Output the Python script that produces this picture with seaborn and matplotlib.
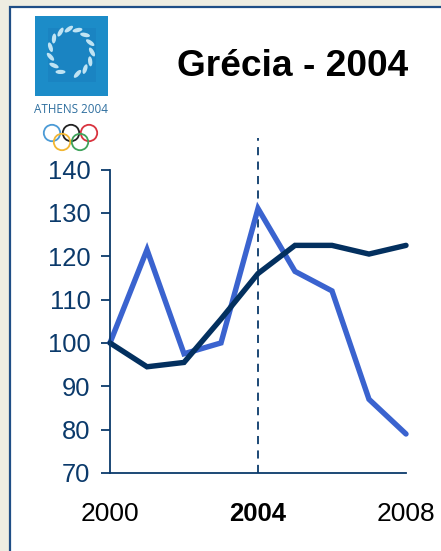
import numpy as np
import pandas as pd
import matplotlib
matplotlib.use("Agg")
import matplotlib.pyplot as plt
from matplotlib.patches import Rectangle, Circle, Ellipse
import seaborn as sns

years = [2000, 2001, 2002, 2003, 2004, 2005, 2006, 2007, 2008]
series_light = [100, 121.5, 97.5, 100, 131, 116.5, 112, 87, 79]
series_dark = [100, 94.5, 95.5, 105.5, 116, 122.5, 122.5, 120.5, 122.5]
y_ticks = [70, 80, 90, 100, 110, 120, 130, 140]
x_ticks = [2000, 2004, 2008]
marker_year = 2004
marker_top = 147.3
title = "Grécia - 2004"
logo_text = "ATHENS 2004"

NAVY = "#0B3A6B"
DARK = "#03305F"
LIGHT = "#3A63CF"
W, H = 441, 551

sns.set_theme(style="white")
plt.rcParams["font.family"] = ["Liberation Sans", "DejaVu Sans"]

fig = plt.figure(figsize=(W / 100, H / 100), dpi=100, facecolor="#EEEDE2")

# page layer in pixel coordinates
bg = fig.add_axes([0, 0, 1, 1])
bg.set_xlim(0, W)
bg.set_ylim(H, 0)
bg.axis("off")
bg.add_patch(Rectangle((10, 6.5), W + 20, H + 20, fc="white", ec="#1F4E86", lw=1.6))

# logo
bg.add_patch(Rectangle((35, 16), 73, 80, fc="#1C8CC8", ec="none"))
bg.add_patch(Rectangle((48, 28), 48, 54, fc="#1A80BE", ec="none", alpha=0.6))
for ang in np.arange(0, 360, 24):
    a = np.deg2rad(ang)
    if 75 < ang < 105:
        continue
    bg.add_patch(Ellipse((71 + 21 * np.cos(a), 52 + 23 * np.sin(a)), 10, 4.2,
                         angle=ang + 60, fc="#BFE3F3", ec="none"))
bg.text(71.5, 109.5, logo_text, color="#2F6F9F", fontsize=8.4, ha="center", va="center",
        family=["Open Sans", "DejaVu Sans"])
rings = [(52, 133, "#4C9BD6"), (71, 133, "#222222"), (89, 133, "#D9333F"),
         (62, 142, "#F2B632"), (80, 142, "#3FA35B")]
for x, y, c in rings:
    bg.add_patch(Circle((x, y), 8.2, fc="none", ec=c, lw=1.3))

bg.text(292.5, 66, title, color="black", fontsize=26.7, fontweight="bold",
        ha="center", va="center")

# chart
ax = fig.add_axes([110 / W, (H - 473) / H, (406 - 110) / W, (473 - 169.5) / H])
ax.patch.set_alpha(0)
df = pd.DataFrame({"year": years, "light": series_light, "dark": series_dark})
sns.lineplot(data=df, x="year", y="light", color=LIGHT, lw=3.9, ax=ax,
             solid_joinstyle="miter", clip_on=False)
sns.lineplot(data=df, x="year", y="dark", color=DARK, lw=3.9, ax=ax,
             solid_joinstyle="miter", clip_on=False)
ax.plot([marker_year, marker_year], [70, marker_top], color=NAVY, lw=1.3,
        ls=(0, (4.5, 3.5)), clip_on=False, zorder=1)

ax.set_xlim(2000, 2008)
ax.set_ylim(70, 140)
ax.set_xlabel("")
ax.set_ylabel("")
ax.set_yticks(y_ticks)
ax.set_xticks(x_ticks)
ax.set_xticklabels([str(v) for v in x_ticks])
for lab, v in zip(ax.get_xticklabels(), x_ticks):
    lab.set_color("black")
    lab.set_fontsize(19)
    if v == marker_year:
        lab.set_fontsize(18.5)
        lab.set_fontweight("bold")
for sp in ["top", "right"]:
    ax.spines[sp].set_visible(False)
for sp in ["left", "bottom"]:
    ax.spines[sp].set_color(NAVY)
    ax.spines[sp].set_linewidth(1.3)
ax.tick_params(axis="y", left=True, length=6.5, width=1.3, color=NAVY,
               labelcolor=NAVY, labelsize=18.4, pad=7.5)
ax.tick_params(axis="x", bottom=False, pad=15)

fig.savefig("out.png", dpi=100, facecolor=fig.get_facecolor())
